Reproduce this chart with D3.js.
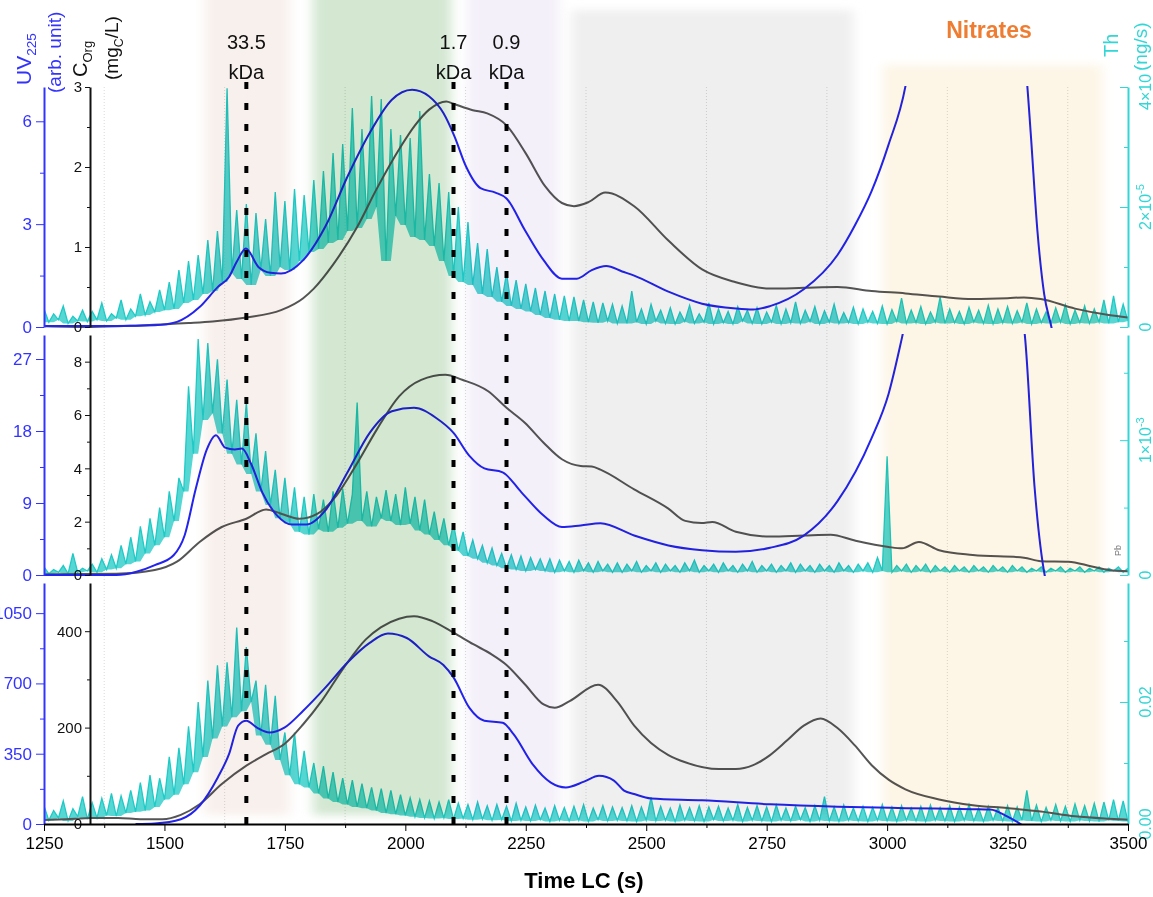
<!DOCTYPE html>
<html>
<head>
<meta charset="utf-8">
<script src="https://cdn.jsdelivr.net/npm/d3@7"></script>
<style>
  body { margin: 0; background: #fff; }
  svg { display: block; font-family: "Liberation Sans", Arial, sans-serif; }
</style>
</head>
<body>
<script>

const xTicks = [1250, 1500, 1750, 2000, 2250, 2500, 2750, 3000, 3250, 3500];
const xMinor = [1375, 1625, 1875, 2125, 2375, 2625, 2875, 3125, 3375];

// molecular weight markers (s) and their labels
const mwTimes = [1670, 2100, 2210];
const mwLabels = ['33.5', '1.7', '0.9'];

// shaded fractions (s)
const bandStart = [1584, 1808, 2128, 2345, 2992];
const bandEnd = [1760, 2095, 2320, 2930, 3446];

// UV225 (arb. unit), [time, value]
const uvTop = [[1250,0.03],[1400,0.03],[1480,0.05],[1526,0.15],[1573,0.58],[1611,1.17],[1634,1.46],[1650,1.9],[1669,2.29],[1695,1.75],[1720,1.58],[1742,1.56],[1788,1.95],[1834,2.93],[1880,4.39],[1926,5.66],[1972,6.63],[2014,6.92],[2049,6.73],[2079,6.24],[2102,5.56],[2126,4.68],[2156,4.05],[2187,3.92],[2210,3.75],[2248,2.83],[2287,1.95],[2325,1.41],[2356,1.41],[2387,1.66],[2417,1.78],[2450,1.62],[2475,1.5],[2546,1.03],[2616,0.68],[2686,0.54],[2722,0.51],[2757,0.61],[2827,1.1],[2897,2.1],[2933,2.96],[2968,3.97],[3003,5.32],[3038,7.02],[3060,9],[3270,9],[3290,7.2],[3298,5.67],[3312,2.8],[3326,0.96],[3341,0],[3360,-1.5]];
const uvMid = [[1250,0],[1400,0],[1442,0.4],[1480,1.23],[1519,2.47],[1542,4.97],[1565,10.77],[1588,15.7],[1607,17.47],[1626,15.93],[1646,15.7],[1661,15.8],[1680,13.87],[1703,10.33],[1734,7.43],[1765,6.3],[1795,6.3],[1834,8.07],[1880,12.83],[1926,17.77],[1972,20.47],[2018,20.9],[2064,19.63],[2100,17.77],[2133,14.9],[2164,13.33],[2202,12.83],[2241,10.33],[2287,7.43],[2325,6.0],[2364,6.2],[2405,6.47],[2475,4.93],[2546,3.7],[2616,3.1],[2686,2.9],[2757,3.4],[2827,4.93],[2897,9.23],[2968,17.13],[3003,22.63],[3031,29.7],[3050,35],[3270,35],[3286,29.9],[3306,11.03],[3327,0],[3345,-3]];
const uvBot = [[1440,0],[1480,3],[1534,24],[1573,91],[1611,233],[1634,348],[1653,490],[1670,514],[1692,480],[1718,456],[1749,480],[1788,564],[1834,679],[1880,804],[1926,902],[1964,948],[2003,926],[2049,835],[2079,792],[2100,730],[2133,578],[2164,514],[2202,504],[2225,446],[2264,298],[2302,206],[2333,182],[2371,211],[2402,240],[2433,216],[2454,166],[2475,149],[2510,127],[2616,118],[2757,98],[2897,86],[3038,79],[3178,74],[3214,72],[3249,38],[3277,0],[3290,-20]];

// C_Org (mgC/L), [time, value]
const cTop = [[1250,0.01],[1350,0.0],[1450,0.02],[1550,0.05],[1600,0.07],[1670,0.12],[1742,0.21],[1788,0.36],[1810,0.48],[1850,0.78],[1900,1.25],[1940,1.72],[1990,2.25],[2020,2.52],[2050,2.72],[2085,2.82],[2100,2.79],[2140,2.71],[2170,2.67],[2210,2.52],[2250,2.17],[2290,1.76],[2325,1.55],[2350,1.51],[2380,1.56],[2415,1.68],[2475,1.51],[2546,1.08],[2616,0.72],[2686,0.56],[2757,0.48],[2827,0.49],[2897,0.5],[2968,0.45],[3038,0.42],[3108,0.38],[3178,0.35],[3250,0.36],[3284,0.37],[3319,0.35],[3390,0.23],[3460,0.15],[3500,0.12]];
const cMid = [[1250,0.03],[1400,0.05],[1480,0.19],[1526,0.5],[1573,1.24],[1619,1.8],[1670,2.11],[1711,2.46],[1742,2.3],[1780,2.11],[1818,2.3],[1857,2.98],[1903,4.28],[1941,5.46],[1987,6.7],[2033,7.32],[2083,7.51],[2118,7.32],[2172,6.89],[2210,6.27],[2248,5.71],[2287,4.96],[2325,4.34],[2364,4.09],[2387,4.07],[2405,3.95],[2475,3.21],[2546,2.49],[2581,2.03],[2615,1.95],[2637,1.99],[2686,1.62],[2757,1.44],[2827,1.48],[2883,1.51],[2933,1.29],[3003,1.05],[3031,1.0],[3066,1.24],[3108,0.93],[3178,0.75],[3284,0.65],[3319,0.52],[3376,0.5],[3425,0.32],[3460,0.19],[3500,0.14]];
const cBot = [[1250,8.3],[1296,10],[1350,12.4],[1404,12.4],[1450,10],[1496,10],[1534,19],[1573,41],[1619,83],[1670,121],[1711,145],[1749,166],[1788,207],[1826,255],[1872,324],[1918,383],[1949,408],[1987,426],[2018,431],[2056,421],[2100,397],[2141,373],[2179,352],[2210,330],[2248,290],[2287,248],[2310,241],[2341,255],[2400,289],[2440,254],[2475,204],[2510,168],[2546,143],[2581,128],[2651,114],[2686,114],[2722,122],[2757,143],[2792,173],[2827,204],[2862,219],[2897,199],[2933,163],[2968,122],[3003,92],[3038,72],[3108,51],[3178,39],[3249,33],[3319,26],[3390,16],[3460,11],[3500,9]];

// Th signal sampled every 10 s from 1250 s
const thTime = d3.range(1250, 3501, 10);
// top: x1e-5 ng/s
const thTop = [
  0.30,0.08,0.22,0.12,0.35,0.06,0.18,0.10,0.28,0.09,
  0.26,0.12,0.40,0.10,0.22,0.15,0.45,0.12,0.30,0.18,
  0.55,0.20,0.42,0.25,0.62,0.28,0.75,0.30,0.95,0.40,
  1.10,0.45,1.20,0.55,1.45,0.60,1.60,0.75,3.98,0.90,
  1.95,0.80,2.05,0.70,1.90,0.95,1.80,0.85,2.25,1.00,
  2.10,0.95,2.30,1.10,2.20,1.25,2.45,1.30,2.60,1.40,
  2.90,1.45,3.05,1.60,3.65,1.65,3.30,1.80,3.85,2.00,
  3.80,1.10,3.30,1.85,3.20,1.70,3.15,1.50,3.60,1.45,
  2.55,1.35,2.40,1.10,2.25,0.85,2.00,0.75,1.75,0.70,
  1.40,0.55,1.30,0.50,1.00,0.42,0.90,0.35,0.78,0.30,
  0.72,0.26,0.65,0.20,0.60,0.15,0.55,0.12,0.52,0.10,
  0.50,0.10,0.45,0.08,0.42,0.07,0.40,0.10,0.38,0.06,
  0.35,0.06,0.60,0.08,0.30,0.05,0.38,0.10,0.28,0.06,
  0.32,0.05,0.25,0.09,0.36,0.06,0.22,0.08,0.40,0.05,
  0.30,0.07,0.26,0.05,0.34,0.10,0.28,0.06,0.32,0.05,
  0.25,0.08,0.36,0.05,0.30,0.07,0.42,0.06,0.28,0.09,
  0.34,0.05,0.27,0.08,0.38,0.06,0.24,0.07,0.33,0.05,
  0.30,0.08,0.26,0.06,0.35,0.05,0.29,0.09,0.48,0.06,
  0.28,0.07,0.34,0.05,0.25,0.08,0.50,0.06,0.30,0.07,
  0.26,0.05,0.33,0.08,0.28,0.06,0.36,0.05,0.30,0.07,
  0.34,0.06,0.27,0.08,0.40,0.05,0.30,0.07,0.25,0.06,
  0.32,0.08,0.37,0.05,0.28,0.07,0.35,0.06,0.30,0.08,
  0.45,0.06,0.52,0.08,0.38,0.10];
// middle: x1e-3 ng/s
const thMid = [
  0.06,0.01,0.04,0.02,0.07,0.01,0.16,0.02,0.05,0.03,
  0.08,0.02,0.12,0.04,0.15,0.05,0.22,0.08,0.28,0.10,
  0.36,0.16,0.42,0.22,0.50,0.28,0.62,0.40,0.72,0.62,
  1.40,0.90,1.75,1.15,1.72,1.20,1.60,1.05,1.45,0.90,
  1.30,0.82,1.28,0.75,1.05,0.62,0.92,0.52,0.78,0.42,
  0.72,0.38,0.65,0.32,0.58,0.30,0.60,0.34,0.56,0.32,
  0.62,0.35,0.64,0.38,0.60,1.28,0.40,0.62,0.36,0.58,
  0.42,0.63,0.40,0.60,0.37,0.65,0.38,0.58,0.33,0.56,
  0.30,0.47,0.26,0.42,0.22,0.38,0.18,0.32,0.14,0.26,
  0.12,0.22,0.09,0.20,0.07,0.16,0.05,0.15,0.04,0.14,
  0.03,0.13,0.04,0.12,0.03,0.12,0.02,0.11,0.03,0.10,
  0.02,0.11,0.03,0.09,0.02,0.10,0.03,0.08,0.02,0.09,
  0.02,0.08,0.03,0.10,0.02,0.07,0.03,0.09,0.02,0.08,
  0.03,0.07,0.02,0.09,0.03,0.11,0.02,0.07,0.03,0.08,
  0.02,0.09,0.03,0.07,0.02,0.08,0.03,0.10,0.02,0.07,
  0.03,0.08,0.02,0.07,0.03,0.09,0.02,0.08,0.03,0.07,
  0.02,0.08,0.03,0.07,0.02,0.09,0.03,0.07,0.02,0.08,
  0.03,0.09,0.02,0.13,0.03,0.88,0.02,0.07,0.03,0.08,
  0.02,0.07,0.03,0.08,0.02,0.07,0.03,0.06,0.02,0.07,
  0.03,0.06,0.02,0.07,0.03,0.06,0.02,0.07,0.03,0.06,
  0.02,0.07,0.03,0.06,0.02,0.05,0.03,0.06,0.02,0.05,
  0.03,0.06,0.02,0.05,0.03,0.06,0.02,0.05,0.03,0.06,
  0.02,0.05,0.03,0.06,0.02,0.05];
// bottom: ng/s
const thBot = [
  .0030,.0006,.0022,.0010,.0038,.0005,.0025,.0012,.0045,.0008,
  .0035,.0010,.0042,.0014,.0050,.0013,.0046,.0018,.0055,.0020,
  .0068,.0022,.0080,.0028,.0075,.0040,.0110,.0048,.0125,.0065,
  .0160,.0085,.0200,.0110,.0235,.0140,.0260,.0160,.0265,.0175,
  .0322,.0185,.0290,.0200,.0235,.0145,.0228,.0130,.0210,.0105,
  .0150,.0080,.0150,.0065,.0120,.0060,.0100,.0050,.0095,.0042,
  .0085,.0036,.0075,.0032,.0072,.0028,.0066,.0026,.0060,.0022,
  .0058,.0018,.0055,.0016,.0048,.0014,.0043,.0012,.0040,.0010,
  .0038,.0009,.0036,.0010,.0040,.0008,.0034,.0009,.0032,.0007,
  .0036,.0008,.0030,.0006,.0032,.0007,.0029,.0005,.0034,.0006,
  .0028,.0005,.0031,.0007,.0026,.0004,.0030,.0006,.0027,.0005,
  .0029,.0006,.0032,.0004,.0026,.0007,.0030,.0005,.0028,.0006,
  .0027,.0005,.0030,.0004,.0028,.0006,.0044,.0005,.0029,.0006,
  .0026,.0004,.0031,.0006,.0027,.0005,.0030,.0004,.0028,.0007,
  .0029,.0005,.0026,.0006,.0032,.0004,.0027,.0006,.0030,.0005,
  .0028,.0004,.0031,.0006,.0026,.0005,.0029,.0007,.0027,.0004,
  .0030,.0006,.0045,.0005,.0028,.0004,.0031,.0006,.0026,.0005,
  .0029,.0004,.0027,.0006,.0032,.0005,.0028,.0004,.0030,.0006,
  .0026,.0005,.0029,.0004,.0031,.0006,.0027,.0005,.0030,.0004,
  .0028,.0006,.0032,.0005,.0026,.0004,.0029,.0006,.0027,.0005,
  .0030,.0004,.0028,.0006,.0055,.0005,.0031,.0004,.0027,.0006,
  .0032,.0005,.0029,.0004,.0033,.0006,.0030,.0005,.0034,.0004,
  .0036,.0006,.0040,.0005,.0038,.0004];

const BLUE = '#2323ee';
const GREY = '#555555';
const TEAL = '#1fcac6';
const TEAL_AX = '#33d6d6';

const panels = [
  { y0: 87, y1: 327, uv: uvTop, c: cTop, th: thTop,
    uvDom: [0, 7], uvMajor: [0, 3, 6], uvMinor: [1.5, 4.5],
    cDom: [0, 3], cMajor: [0, 1, 2, 3], cMinor: [0.5, 1.5, 2.5],
    thDom: [0, 4], thMajor: [0, 2, 4], thMinor: [1, 3],
    thLab: [['0'], ['2×10', '-5'], ['4×10', '-5']] },
  { y0: 335, y1: 575, uv: uvMid, c: cMid, th: thMid,
    uvDom: [0, 30], uvMajor: [0, 9, 18, 27], uvMinor: [4.5, 13.5, 22.5],
    cDom: [0, 9], cMajor: [0, 2, 4, 6, 8], cMinor: [1, 3, 5, 7],
    thDom: [0, 1.78], thMajor: [0, 1], thMinor: [0.5, 1.5],
    thLab: [['0'], ['1×10', '-3']] },
  { y0: 583, y1: 824, uv: uvBot, c: cBot, th: thBot,
    uvDom: [0, 1200], uvMajor: [0, 350, 700, 1050], uvMinor: [175, 525, 875],
    cDom: [0, 500], cMajor: [0, 200, 400], cMinor: [100, 300],
    thDom: [0, 0.0395], thMajor: [0, 0.02], thMinor: [0.01, 0.03],
    thLab: [['0.00'], ['0.02']] },
];

const bandColor = ['#f8f0ec', '#d3e7d1', '#f4f0f9', '#efefef', '#fdf5e6'];
const bandTop = [-20, -20, -20, 10, 65];

const svg = d3.select('body').append('svg')
  .attr('width', 1153)
  .attr('height', 897);

const x = d3.scaleLinear().domain([1250, 3500]).range([44, 1128]);
const defs = svg.append('defs');

// faint grid
svg.append('g').selectAll('line').data(xMinor).join('line')
  .attr('x1', d => x(d)).attr('x2', d => x(d))
  .attr('y1', 87).attr('y2', 824)
  .attr('stroke', '#cfcfcf').attr('stroke-width', 0.8)
  .attr('stroke-dasharray', '1,2');

panels.forEach((p, k) => {
  const yUV = d3.scaleLinear().domain(p.uvDom).range([p.y1, p.y0]);
  const yC = d3.scaleLinear().domain(p.cDom).range([p.y1, p.y0]);
  const yTh = d3.scaleLinear().domain(p.thDom).range([p.y1, p.y0]);

  defs.append('clipPath').attr('id', `clip${k}`)
    .append('rect').attr('x', 44).attr('y', p.y0 - 1)
    .attr('width', 1084).attr('height', p.y1 - p.y0 + 2);

  const g = svg.append('g').attr('clip-path', `url(#clip${k})`);

  // fill each noise tooth down to the lowest neighbour
  const near = i => p.th.slice(Math.max(0, i - 1), i + 2);
  g.append('path').datum(p.th)
    .attr('d', d3.area()
      .x((d, i) => x(thTime[i]))
      .y0((d, i) => yTh(d3.min(near(i))))
      .y1(d => yTh(d)))
    .attr('fill', TEAL).attr('fill-opacity', 0.75);

  g.append('path').datum(p.th)
    .attr('d', d3.line().x((d, i) => x(thTime[i])).y(d => yTh(d)))
    .attr('fill', 'none').attr('stroke', TEAL).attr('stroke-width', 1.3);

  g.append('path').datum(p.c)
    .attr('d', d3.line().x(d => x(d[0])).y(d => yC(d[1])).curve(d3.curveMonotoneX))
    .attr('fill', 'none').attr('stroke', GREY).attr('stroke-width', 2);

  g.append('path').datum(p.uv)
    .attr('d', d3.line().x(d => x(d[0])).y(d => yUV(d[1])).curve(d3.curveMonotoneX))
    .attr('fill', 'none').attr('stroke', BLUE).attr('stroke-width', 2);

  p.yUV = yUV; p.yC = yC; p.yTh = yTh;
});

// shaded fractions, blended over the traces
defs.append('filter').attr('id', 'soft')
  .attr('x', '-30%').attr('width', '160%').attr('y', '-5%').attr('height', '110%')
  .append('feGaussianBlur').attr('stdDeviation', '6 4');

svg.append('g').style('mix-blend-mode', 'multiply')
  .selectAll('rect').data(bandStart).join('rect')
  .attr('x', d => x(d))
  .attr('width', (d, i) => x(bandEnd[i]) - x(d))
  .attr('y', (d, i) => bandTop[i])
  .attr('height', (d, i) => 815 - bandTop[i])
  .attr('fill', (d, i) => bandColor[i])
  .attr('filter', 'url(#soft)');

// axes
const plain = d => String(d);
panels.forEach((p) => {
  const uvAx = svg.append('g').attr('transform', 'translate(44,0)').attr('color', '#3333ff');
  uvAx.call(d3.axisLeft(p.yUV).tickValues(p.uvMajor).tickFormat(plain).tickSize(8).tickSizeOuter(0).tickPadding(4));
  uvAx.append('g').call(d3.axisLeft(p.yUV).tickValues(p.uvMinor).tickSize(4).tickFormat(''))
    .select('.domain').remove();
  uvAx.selectAll('.domain').attr('stroke-width', 2);
  uvAx.selectAll('text').attr('font-size', 17).attr('font-family', 'Liberation Sans, Arial');

  const cAx = svg.append('g').attr('transform', 'translate(90,0)').attr('color', '#111');
  cAx.call(d3.axisLeft(p.yC).tickValues(p.cMajor).tickFormat(plain).tickSize(5).tickSizeOuter(0).tickPadding(3));
  cAx.append('g').call(d3.axisLeft(p.yC).tickValues(p.cMinor).tickSize(3).tickFormat(''))
    .select('.domain').remove();
  cAx.selectAll('.domain').attr('stroke-width', 2);
  cAx.selectAll('text').attr('font-size', 15).attr('font-family', 'Liberation Sans, Arial');

  const thAx = svg.append('g').attr('transform', 'translate(1128,0)').attr('color', TEAL_AX);
  thAx.call(d3.axisLeft(p.yTh).tickValues(p.thMajor).tickSize(8).tickSizeOuter(0).tickFormat(''));
  thAx.append('g').call(d3.axisLeft(p.yTh).tickValues(p.thMinor).tickSize(4).tickFormat(''))
    .select('.domain').remove();
  thAx.selectAll('.domain').attr('stroke-width', 2);

  p.thMajor.forEach((v, i) => {
    const yy = p.yTh(v);
    const t = svg.append('text')
      .attr('transform', `translate(1151,${yy}) rotate(-90)`)
      .attr('text-anchor', 'middle')
      .attr('fill', TEAL_AX).attr('font-size', 16);
    t.append('tspan').text(p.thLab[i][0]);
    if (p.thLab[i][1]) {
      t.append('tspan').attr('dy', -7).attr('font-size', 11).text(p.thLab[i][1]);
    }
  });
});

// cover for the clipped top right label
svg.append('rect').attr('x', 1133).attr('y', 0).attr('width', 20).attr('height', 74).attr('fill', '#fff');

const xAx = svg.append('g').attr('transform', 'translate(0,824)').attr('color', '#000');
xAx.call(d3.axisBottom(x).tickValues(xTicks).tickSize(7).tickSizeOuter(0).tickPadding(6).tickFormat(d3.format('d')));
xAx.append('g').call(d3.axisBottom(x).tickValues(xMinor).tickSize(4).tickFormat(''))
  .select('.domain').remove();
xAx.selectAll('.domain').attr('stroke-width', 2);
xAx.selectAll('text').attr('font-size', 17).attr('font-family', 'Liberation Sans, Arial');

// molecular weight markers
svg.append('g').selectAll('line').data(mwTimes).join('line')
  .attr('x1', d => x(d)).attr('x2', d => x(d))
  .attr('y1', 82).attr('y2', 824)
  .attr('stroke', '#000').attr('stroke-width', 4)
  .attr('stroke-dasharray', '7,14');

const mwG = svg.append('g').attr('font-size', 20).attr('text-anchor', 'middle').attr('fill', '#111');
mwG.selectAll('.v').data(mwLabels).join('text')
  .attr('x', (d, i) => x(mwTimes[i])).attr('y', 49).text(d => d);
mwG.selectAll('.u').data(mwLabels).join('text')
  .attr('x', (d, i) => x(mwTimes[i])).attr('y', 79).text('kDa');

svg.append('text').attr('x', 989).attr('y', 38)
  .attr('text-anchor', 'middle').attr('font-size', 23).attr('font-weight', 'bold')
  .attr('fill', '#ee7d32').text('Nitrates');

svg.append('text').attr('x', 584).attr('y', 888)
  .attr('text-anchor', 'middle').attr('font-size', 22).attr('font-weight', 'bold')
  .attr('fill', '#000').text('Time LC (s)');

// rotated axis titles
function vTitle(xp, yp, parts, color, size) {
  const t = svg.append('text')
    .attr('transform', `translate(${xp},${yp}) rotate(-90)`)
    .attr('fill', color).attr('font-size', size);
  let shift = 0;
  parts.forEach(([s, sub]) => {
    const ts = t.append('tspan').text(s);
    const target = sub ? 5 : 0;
    if (target !== shift) ts.attr('dy', target - shift);
    if (sub) ts.attr('font-size', size * 0.65);
    shift = target;
  });
}
vTitle(31, 85, [['UV'], ['225', true]], '#3333ff', 21);
vTitle(61, 93, [['(arb. unit)']], '#3333ff', 19);
vTitle(87, 77, [['C'], ['Org', true]], '#111', 20);
vTitle(118, 80, [['(mg'], ['C', true], ['/L)']], '#111', 19);
vTitle(1118, 57, [['Th']], TEAL_AX, 20);
vTitle(1147, 71, [['(ng/s)']], TEAL_AX, 19);

svg.append('text')
  .attr('transform', 'translate(1121,556) rotate(-90)')
  .attr('font-size', 9).attr('fill', '#777').text('Pb');

</script>
</body>
</html>
